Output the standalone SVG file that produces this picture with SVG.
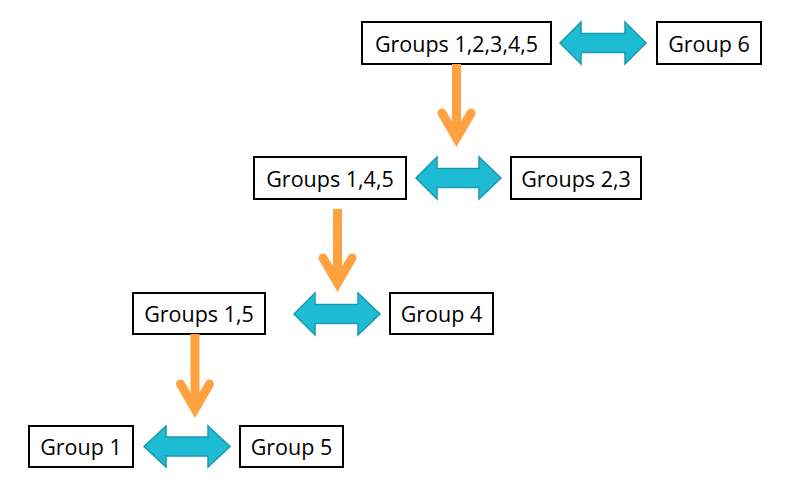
<svg xmlns="http://www.w3.org/2000/svg" width="800" height="486" viewBox="0 0 800 486">
  <defs>
    <style>
      .box { fill: #ffffff; stroke: #000000; stroke-width: 2; }
      .lbl { font-family: "Open Sans", "Liberation Sans", sans-serif; font-size: 21.5px; fill: #000000; text-anchor: middle; }
      .swap { fill: #1dbcd4; stroke: #1a9aab; stroke-width: 1.5; stroke-linejoin: miter; }
      .down { fill: none; stroke: #ffa23f; stroke-width: 9; stroke-linecap: round; stroke-linejoin: miter; stroke-miterlimit: 10; }
      .shaft { fill: none; stroke: #ffa23f; stroke-width: 9; stroke-linecap: butt; }
    </style>
  </defs>
  <rect width="800" height="486" fill="#ffffff"/>

  <!-- nodes -->
  <g id="groups-12345">
    <rect class="box" x="362" y="22" width="189" height="42"/>
    <text class="lbl" x="456.5" y="51.5">Groups 1,2,3,4,5</text>
  </g>
  <g id="group-6">
    <rect class="box" x="657" y="22" width="104" height="42"/>
    <text class="lbl" x="709" y="51.5">Group 6</text>
  </g>
  <g id="groups-145">
    <rect class="box" x="254" y="157" width="152" height="42"/>
    <text class="lbl" x="330" y="186.5">Groups 1,4,5</text>
  </g>
  <g id="groups-23">
    <rect class="box" x="511" y="157" width="130" height="42"/>
    <text class="lbl" x="576" y="186.5">Groups 2,3</text>
  </g>
  <g id="groups-15">
    <rect class="box" x="133" y="293" width="132" height="41"/>
    <text class="lbl" x="199" y="322">Groups 1,5</text>
  </g>
  <g id="group-4">
    <rect class="box" x="390" y="293" width="103" height="41"/>
    <text class="lbl" x="441.5" y="322">Group 4</text>
  </g>
  <g id="group-1">
    <rect class="box" x="29" y="426" width="104" height="41"/>
    <text class="lbl" x="81" y="455">Group 1</text>
  </g>
  <g id="group-5">
    <rect class="box" x="240" y="426" width="103" height="41"/>
    <text class="lbl" x="291.5" y="455">Group 5</text>
  </g>

  <!-- connectors -->
  <g id="connectors">
    <!-- two-way block arrows between split groups -->
    <polygon class="swap" points="560,43 581,22 581,33.5 625,33.5 625,22 646,43 625,64 625,52.5 581,52.5 581,64"/>
    <polygon class="swap" points="416,178 437,157 437,168.5 479,168.5 479,157 501,178 479,199 479,187.5 437,187.5 437,199"/>
    <polygon class="swap" points="294,314 315,293 315,304.5 358,304.5 358,293 380,314 358,335 358,323.5 315,323.5 315,335"/>
    <polygon class="swap" points="144,446.5 166,426 166,437 208,437 208,426 230,446.5 208,467 208,456 166,456 166,467"/>

    <!-- downward split arrows -->
    <line class="shaft" x1="456.5" y1="64" x2="456.5" y2="137"/>
    <polyline class="down" points="442,113 456.5,138 471,113"/>

    <line class="shaft" x1="337.5" y1="209" x2="337.5" y2="282"/>
    <polyline class="down" points="323,258 337.5,283 352,258"/>

    <line class="shaft" x1="195" y1="334" x2="195" y2="408"/>
    <polyline class="down" points="180.5,384 195,409 209.5,384"/>
  </g>
</svg>
